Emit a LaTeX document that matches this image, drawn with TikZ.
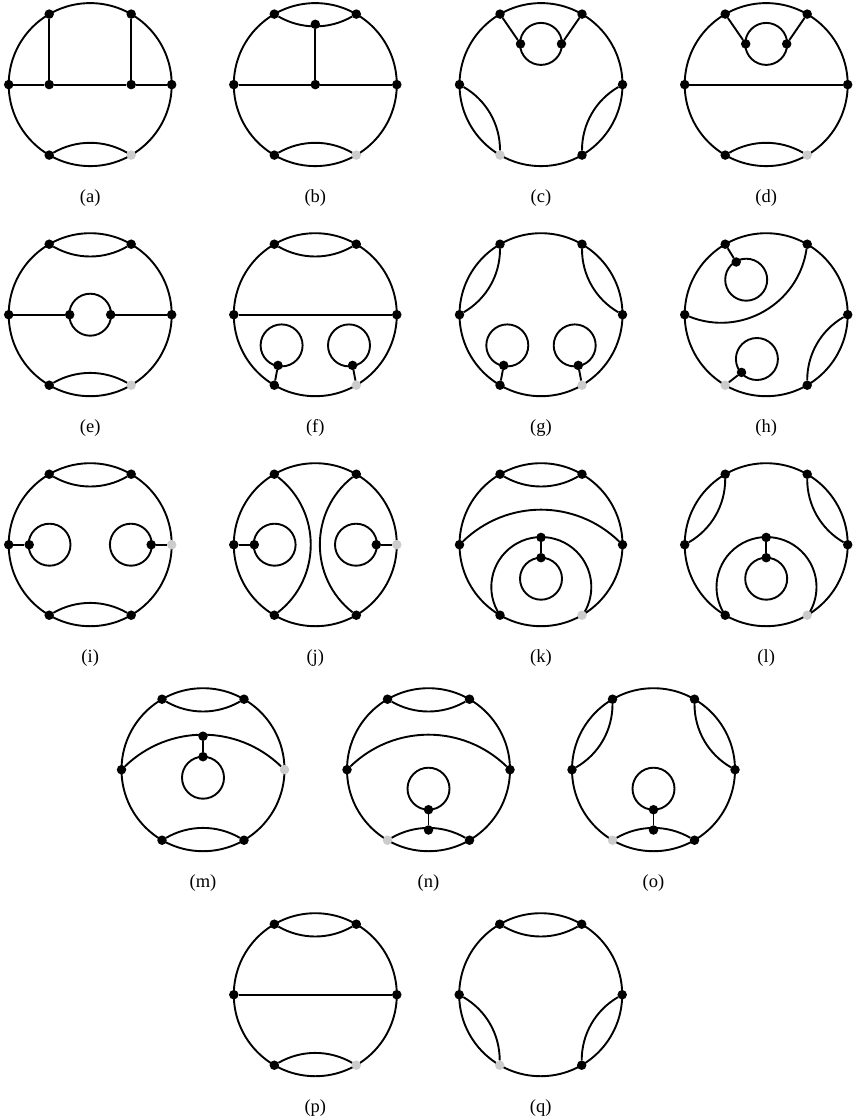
\documentclass[tikz,border=0pt]{standalone}
\usepackage{fontspec}
\setmainfont{Liberation Serif}
\pgfdeclarelayer{bg}
\pgfsetlayers{bg,main}
\tikzset{
  ln/.style={line width=1.9pt,black},
  ringn/.style={circle,draw=black,line width=1.9pt,minimum size=163pt,inner sep=0pt,outer sep=0pt},
  loopc/.style={circle,draw=black,line width=1.9pt,minimum size=42pt,inner sep=0pt,outer sep=0pt},
  bv/.style={circle,fill=black,minimum size=9.5pt,inner sep=0pt,outer sep=0pt},
  gv/.style={circle,fill=black!20,minimum size=9.5pt,inner sep=0pt,outer sep=0pt},
  lab/.style={anchor=base,inner sep=0pt,font=\fontsize{18.5}{22}\selectfont},
  lensL/.style={bend left=30,looseness=.92},
  lensR/.style={bend right=30,looseness=.92},
  bigL/.style={bend left=44},
  bigR/.style={bend right=44},
  wideL/.style={bend left=52,looseness=1.05},
  wideR/.style={bend right=52,looseness=1.05},
}
\newcommand\ring[3]{%
  \node[ringn] (#1-o) at (0,0) {};
  \foreach \p/\x/\y in {tl/-41/70.5,tr/41/70.5,l/-81.5/0,r/81.5/0,bl/-41/-70.5,br/41/-70.5}{%
    \def\g{#2}\ifx\p\g\def\st{gv}\else\def\st{bv}\fi
    \node[\st] (#1-\p) at (\x,\y) {};
  }
  \node[lab] (#1-lab) at (0,-118) {#3};
}
\newcommand\lensT[1]{\draw[ln] (#1-tl) to[lensR] (#1-tr);}
\newcommand\lensB[1]{\begin{pgfonlayer}{bg}\draw[ln] (#1-bl) to[lensL] (#1-br);\end{pgfonlayer}}
\newcommand\lensSides[1]{\draw[ln] (#1-tl) to[lensL] (#1-l); \draw[ln] (#1-tr) to[lensR] (#1-r);}
\newcommand\lensLow[1]{\draw[ln] (#1-l) to[lensL] (#1-bl); \draw[ln] (#1-r) to[lensR] (#1-br);}
\newcommand\chord[1]{\draw[ln] (#1-l) -- (#1-r);}
\newcommand\bigarc[1]{\draw[ln] (#1-l) to[bigL] (#1-r);}
\newcommand\topLoop[1]{%
  \node[loopc] (#1-lp) at (0,40.7) {};
  \node[bv] (#1-i1) at (-20.5,40.7) {};
  \node[bv] (#1-i2) at (20.5,40.7) {};
  \draw[ln] (#1-tl) -- (#1-i1);
  \draw[ln] (#1-tr) -- (#1-i2);
}
\newcommand\lowLoops[1]{%
  \node[loopc] (#1-lp1) at (-33.7,-30.7) {};
  \node[loopc] (#1-lp2) at (33.7,-30.7) {};
  \node[bv] (#1-i1) at (-37.3,-50.7) {};
  \node[bv] (#1-i2) at (37.3,-50.7) {};
  \draw[ln] (#1-bl) -- (#1-i1);
  \draw[ln] (#1-br) -- (#1-i2);
}
\newcommand\sideLoops[1]{%
  \node[loopc] (#1-lp1) at (-40.7,0) {};
  \node[loopc] (#1-lp2) at (40.7,0) {};
  \node[bv] (#1-i1) at (-61,0) {};
  \node[bv] (#1-i2) at (61,0) {};
  \draw[ln] (#1-l) -- (#1-i1);
  \draw[ln] (#1-r) -- (#1-i2);
}
\newcommand\nestLoop[1]{%
  \begin{pgfonlayer}{bg}
    \draw[ln] (#1-bl.center) arc[start angle=214.3,end angle=-34.3,radius=50pt];
  \end{pgfonlayer}
  \node[loopc] (#1-lp) at (0,-34) {};
  \node[bv] (#1-i1) at (0,7.3) {};
  \node[bv] (#1-i2) at (0,-13) {};
  \draw[ln] (#1-i1) -- (#1-i2);
}
\newcommand\botStem[1]{%
  \node[loopc] (#1-lp) at (0,-19) {};
  \node[bv] (#1-i1) at (0,-60.3) {};
  \node[bv] (#1-i2) at (0,-40) {};
  \draw[ln] (#1-i1) -- (#1-i2);
}
\begin{document}
\begin{tikzpicture}[x=1pt,y=1pt]
\useasboundingbox (0,0) rectangle (852,-1119);
% row 1
\begin{scope}[shift={(90.2,-84.6)}]
  \ring{a}{br}{(a)}
  \node[bv] (a-i1) at (-41,0) {};
  \node[bv] (a-i2) at (41,0) {};
  \draw[ln] (a-l) -- (a-i1);
  \draw[ln] (a-i1) -- (a-i2);
  \draw[ln] (a-i2) -- (a-r);
  \draw[ln] (a-tl) -- (a-i1);
  \draw[ln] (a-tr) -- (a-i2);
  \lensB{a}
\end{scope}
\begin{scope}[shift={(315.3,-84.6)}]
  \ring{b}{br}{(b)}
  \begin{pgfonlayer}{bg}\draw[ln] (b-tl) to[lensR] (b-tr);\end{pgfonlayer}
  \node[bv] (b-i1) at (0,60.3) {};
  \node[bv] (b-i2) at (0,0) {};
  \draw[ln] (b-i1) -- (b-i2);
  \draw[ln] (b-l) -- (b-i2);
  \draw[ln] (b-i2) -- (b-r);
  \lensB{b}
\end{scope}
\begin{scope}[shift={(541,-84.6)}]
  \ring{c}{bl}{(c)}
  \topLoop{c}
  \lensLow{c}
\end{scope}
\begin{scope}[shift={(766.2,-84.6)}]
  \ring{d}{br}{(d)}
  \topLoop{d}
  \chord{d}
  \lensB{d}
\end{scope}
% row 2
\begin{scope}[shift={(90.2,-314.7)}]
  \ring{e}{br}{(e)}
  \lensT{e}
  \lensB{e}
  \node[loopc] (e-lp) at (0,0) {};
  \node[bv] (e-i1) at (-20.5,0) {};
  \node[bv] (e-i2) at (20.5,0) {};
  \draw[ln] (e-l) -- (e-i1);
  \draw[ln] (e-i2) -- (e-r);
\end{scope}
\begin{scope}[shift={(315.3,-314.7)}]
  \ring{f}{br}{(f)}
  \lensT{f}
  \chord{f}
  \lowLoops{f}
\end{scope}
\begin{scope}[shift={(541,-314.7)}]
  \ring{g}{br}{(g)}
  \lensSides{g}
  \lowLoops{g}
\end{scope}
\begin{scope}[shift={(766.2,-314.7)}]
  \ring{h}{bl}{(h)}
  \draw[ln] (h-l) to[wideR] (h-tr);
  \draw[ln] (h-r) to[lensR] (h-br);
  \node[loopc] (h-lp1) at (-20,35) {};
  \node[bv] (h-i1) at (-30,52.7) {};
  \draw[ln] (h-tl) -- (h-i1);
  \node[loopc] (h-lp2) at (-9.3,-44.3) {};
  \node[bv] (h-i2) at (-24.7,-57.7) {};
  \draw[ln] (h-bl) -- (h-i2);
\end{scope}
% row 3
\begin{scope}[shift={(90.2,-544.7)}]
  \ring{i}{r}{(i)}
  \lensT{i}
  \lensB{i}
  \sideLoops{i}
\end{scope}
\begin{scope}[shift={(315.3,-544.7)}]
  \ring{j}{r}{(j)}
  \draw[ln] (j-tl) to[wideL] (j-bl);
  \draw[ln] (j-tr) to[wideR] (j-br);
  \sideLoops{j}
\end{scope}
\begin{scope}[shift={(541,-544.7)}]
  \ring{k}{br}{(k)}
  \lensT{k}
  \bigarc{k}
  \nestLoop{k}
\end{scope}
\begin{scope}[shift={(766.2,-544.7)}]
  \ring{l}{br}{(l)}
  \lensSides{l}
  \nestLoop{l}
\end{scope}
% row 4
\begin{scope}[shift={(203,-769.7)}]
  \ring{m}{r}{(m)}
  \lensT{m}
  \lensB{m}
  \begin{pgfonlayer}{bg}\bigarc{m}\end{pgfonlayer}
  \node[loopc] (m-lp) at (0,-8) {};
  \node[bv] (m-i1) at (0,33.5) {};
  \node[bv] (m-i2) at (0,13) {};
  \draw[ln] (m-i1) -- (m-i2);
\end{scope}
\begin{scope}[shift={(428.5,-769.7)}]
  \ring{n}{bl}{(n)}
  \lensT{n}
  \lensB{n}
  \bigarc{n}
  \botStem{n}
\end{scope}
\begin{scope}[shift={(653.5,-769.7)}]
  \ring{o}{bl}{(o)}
  \lensSides{o}
  \lensB{o}
  \botStem{o}
\end{scope}
% row 5
\begin{scope}[shift={(315.3,-994.7)}]
  \ring{p}{br}{(p)}
  \lensT{p}
  \chord{p}
  \lensB{p}
\end{scope}
\begin{scope}[shift={(540.7,-994.7)}]
  \ring{q}{bl}{(q)}
  \lensT{q}
  \lensLow{q}
\end{scope}
\end{tikzpicture}
\end{document}
